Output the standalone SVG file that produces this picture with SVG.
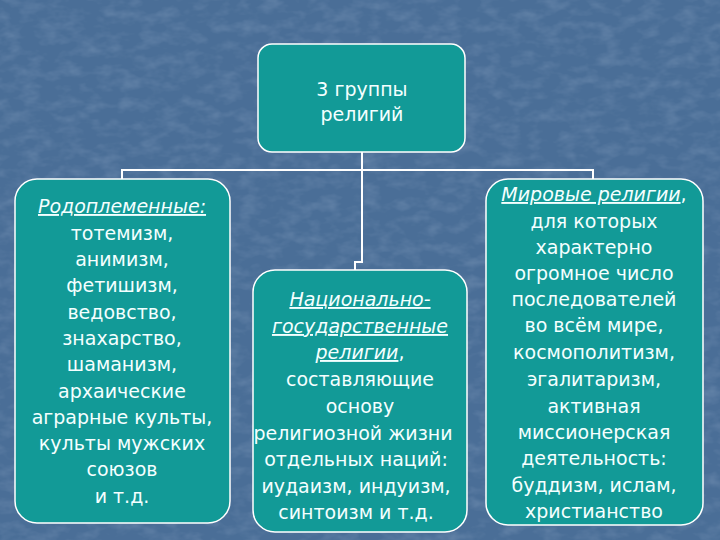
<svg xmlns="http://www.w3.org/2000/svg" width="720" height="540" viewBox="0 0 720 540">
<defs>
<filter id="tex" x="0" y="0" width="100%" height="100%">
<feTurbulence type="fractalNoise" baseFrequency="0.05 0.09" numOctaves="3" seed="7" result="n"/>
<feColorMatrix in="n" type="matrix" values="0 0 0 0 0.55  0 0 0 0 0.65  0 0 0 0 0.8  0 0 0 1.2 -0.5"/>
</filter>
<style>
.bg{fill:#4a6e97}
.node{fill:#129a97;stroke:#ffffff;stroke-width:1.5}
.conn{fill:none;stroke:#ffffff;stroke-width:2}
text{font-family:"DejaVu Sans","Liberation Sans",sans-serif;font-size:19px;fill:#f4ffff;text-anchor:middle}
.h{font-style:italic;text-decoration:underline}
</style>
</defs>
<rect class="bg" x="0" y="0" width="720" height="540"/>
<rect x="0" y="0" width="720" height="540" filter="url(#tex)" opacity="0.3"/>
<g id="connectors">
<path class="conn" d="M362,152 V262 H355 V270"/>
<path class="conn" d="M122,179 V170 H593 V179"/>
</g>
<g id="top">
<rect class="node" x="258" y="44" width="207" height="108" rx="14"/>
<text x="362" y="96">3 группы</text>
<text x="362" y="121">религий</text>
</g>
<g id="tribal">
<rect class="node" x="15" y="179" width="215" height="344" rx="22"/>
<text x="122" y="213"><tspan class="h">Родоплеменные:</tspan></text>
<text x="122" y="240">тотемизм,</text>
<text x="122" y="266">анимизм,</text>
<text x="122" y="292">фетишизм,</text>
<text x="122" y="319">ведовство,</text>
<text x="122" y="345">знахарство,</text>
<text x="122" y="371">шаманизм,</text>
<text x="122" y="398">архаические</text>
<text x="122" y="424">аграрные культы,</text>
<text x="122" y="450">культы мужских</text>
<text x="122" y="476">союзов</text>
<text x="122" y="503">и т.д.</text>
</g>
<g id="national">
<rect class="node" x="253" y="270" width="214" height="262" rx="22"/>
<text x="360" y="306"><tspan class="h">Национально-</tspan></text>
<text x="360" y="333"><tspan class="h">государственные</tspan></text>
<text x="360" y="359"><tspan class="h">религии</tspan>,</text>
<text x="360" y="386">составляющие</text>
<text x="360" y="413">основу</text>
<text x="353" y="440">религиозной жизни</text>
<text x="356" y="466">отдельных наций:</text>
<text x="356" y="493">иудаизм, индуизм,</text>
<text x="356" y="519">синтоизм и т.д.</text>
</g>
<g id="world">
<rect class="node" x="486" y="179" width="217" height="346" rx="22"/>
<text x="594" y="201"><tspan class="h">Мировые религии</tspan>,</text>
<text x="594" y="228">для которых</text>
<text x="594" y="254">характерно</text>
<text x="594" y="280">огромное число</text>
<text x="594" y="306">последователей</text>
<text x="594" y="332">во всём мире,</text>
<text x="594" y="359">космополитизм,</text>
<text x="594" y="386">эгалитаризм,</text>
<text x="594" y="413">активная</text>
<text x="594" y="439">миссионерская</text>
<text x="594" y="465">деятельность:</text>
<text x="594" y="492">буддизм, ислам,</text>
<text x="594" y="518">христианство</text>
</g>
</svg>
